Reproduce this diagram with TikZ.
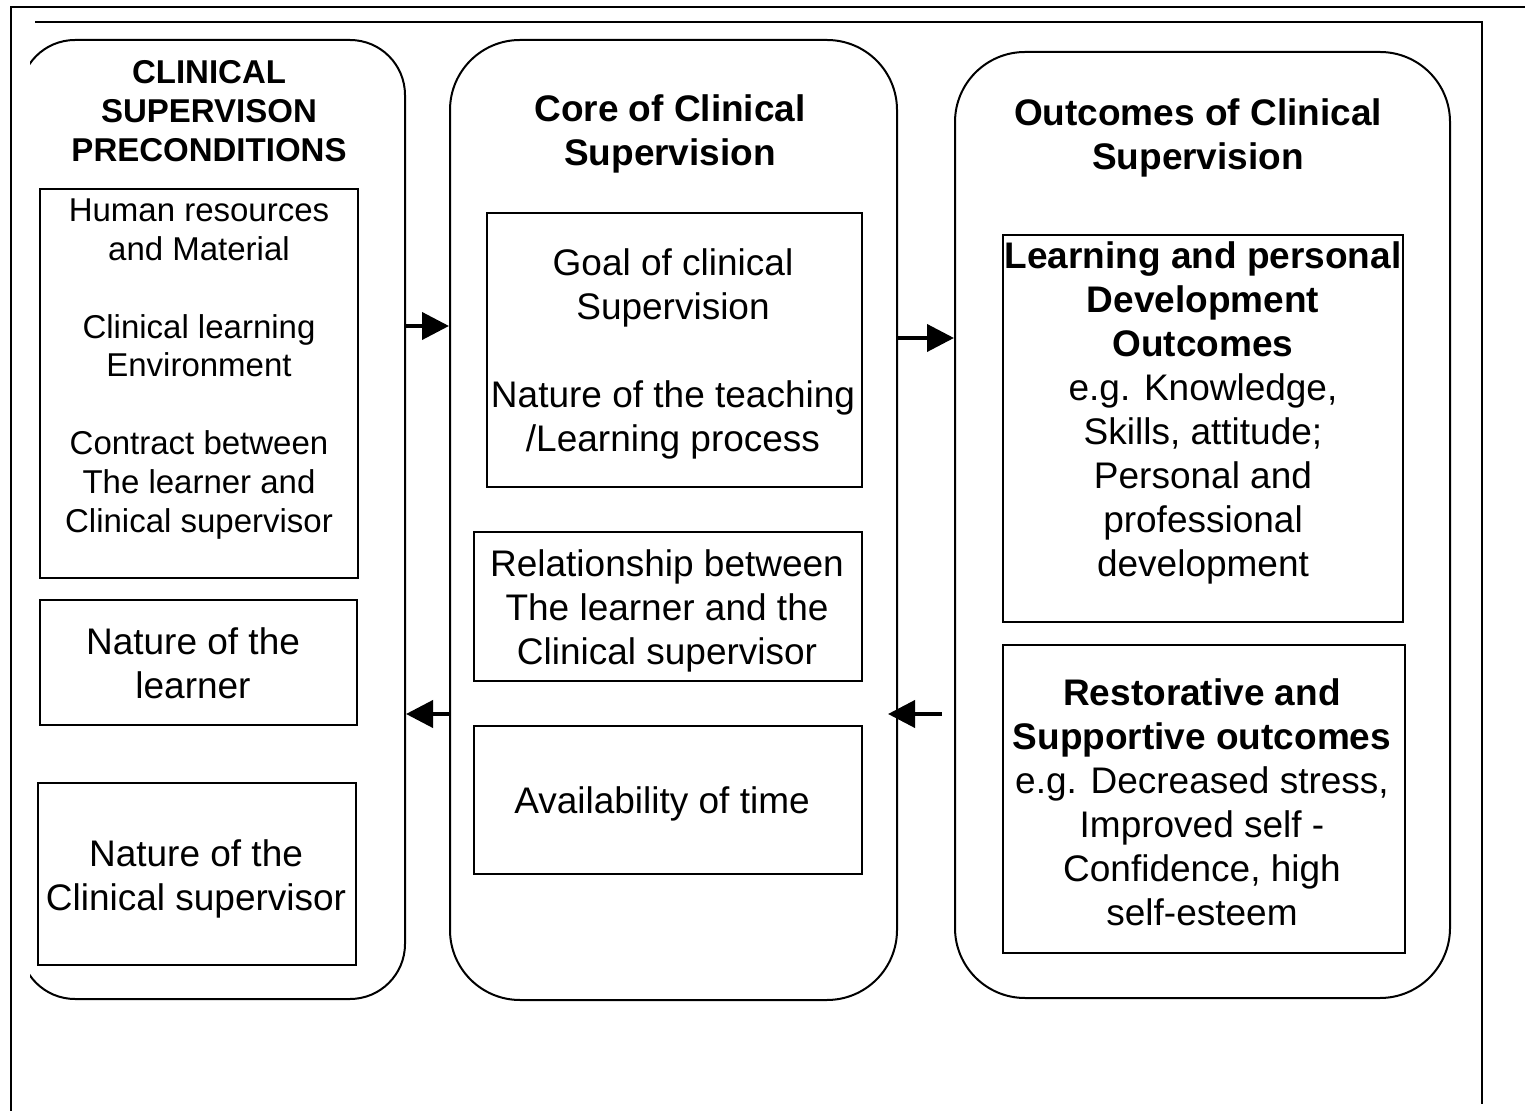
\documentclass[tikz,border=0pt]{standalone}
\usepackage{fontspec}
\setmainfont{Liberation Sans}
\usetikzlibrary{arrows.meta,calc,fit}
\begin{document}
\begin{tikzpicture}[x=0.5pt,y=-0.5pt,
  frameline/.style={line width=1pt},
  bigbox/.style={draw, line width=1pt, rounded corners=#1, inner sep=0pt},
  bigbox/.default=35pt,
  innerbox/.style={draw, line width=0.9pt, inner sep=0pt},
  txt/.style={align=center, inner sep=0pt, font=\fontsize{18.5}{22}\selectfont},
  txts/.style={align=center, inner sep=0pt, font=\fontsize{16.5}{19.4}\selectfont},
  arr/.style={-{Triangle[length=13.5pt,width=13.5pt]}, line width=2pt}
]
\useasboundingbox (0,0) rectangle (1525,1111);

% outer frame lines
\draw[frameline] (1525,7) -- (11,7) -- (11,1111);
\draw[frameline] (35,22) -- (1482,22) -- (1482,1104);

% big rounded columns
\begin{scope}
  \clip (30,0) rectangle (1525,1111);
  \node[bigbox=27.5pt, fit={(20,40) (405,999)}] (L) {};
\end{scope}
\node[bigbox, fit={(450,40) (897,1000)}] (M) {};
\node[bigbox, fit={(955,52) (1450,998)}] (R) {};

% headers
\node[txts, font=\fontsize{16.5}{19.4}\selectfont\bfseries] (hL) at (209,111) {CLINICAL\\SUPERVISON\\PRECONDITIONS};
\node[txt, font=\fontsize{18.5}{22}\selectfont\bfseries] (hM) at (670,134) {Core of Clinical\\Supervision};
\node[txt, font=\fontsize{18.5}{22}\selectfont\bfseries] (hR) at (1198,138) {Outcomes of Clinical\\Supervision};

% left inner boxes
\node[innerbox, fit={(40,189) (358,578)}] (L1) {};
\node[innerbox, fit={(40,600) (357,725)}] (L2) {};
\node[innerbox, fit={(38,783) (356,965)}] (L3) {};
\node[txts] (tL1) at (199,369) {Human resources\\and Material\\[19.4pt]Clinical learning\\Environment\\[19.4pt]Contract between\\The learner and\\Clinical supervisor};
\node[txt] (tL2) at (193,663) {Nature of the\\learner};
\node[txt] (tL3) at (196,879) {Nature of the\\Clinical supervisor};

% middle inner boxes
\node[innerbox, fit={(487,213) (862,487)}] (M1) {};
\node[innerbox, fit={(474,532) (862,681)}] (M2) {};
\node[innerbox, fit={(474,726) (862,874)}] (M3) {};
\node[txt] (tM1) at (673,354) {Goal of clinical\\Supervision\\[22pt]Nature of the teaching\\/Learning process};
\node[txt] (tM2) at (667,611) {Relationship between\\The learner and the\\Clinical supervisor};
\node[txt] (tM3) at (662,804) {Availability of time};

% right inner boxes
\node[innerbox, fit={(1003,235) (1403,622)}] (R1) {};
\node[innerbox, fit={(1003,645) (1405,953)}] (R2) {};
\node[txt] (tR1) at (1203,413) {\textbf{Learning and personal}\\\textbf{Development}\\\textbf{Outcomes}\\e.g. Knowledge,\\Skills, attitude;\\Personal and\\professional\\development};
\node[txt] (tR2) at (1202,802) {\textbf{Restorative and}\\\textbf{Supportive outcomes}\\e.g. Decreased stress,\\Improved self -\\Confidence, high\\self-esteem};

% arrows
\coordinate (a1) at (0,326);
\coordinate (a2) at (0,338);
\coordinate (a3) at (0,714);
\draw[arr] (L.east |- a1) -- (M.west |- a1);
\draw[arr] (M.east |- a2) -- (R.west |- a2);
\draw[arr] (M.west |- a3) -- (L.east |- a3);
\draw[arr] ($(R.west |- a3)+(-12,0)$) -- ($(M.east |- a3)+(-10,0)$);
\end{tikzpicture}
\end{document}
